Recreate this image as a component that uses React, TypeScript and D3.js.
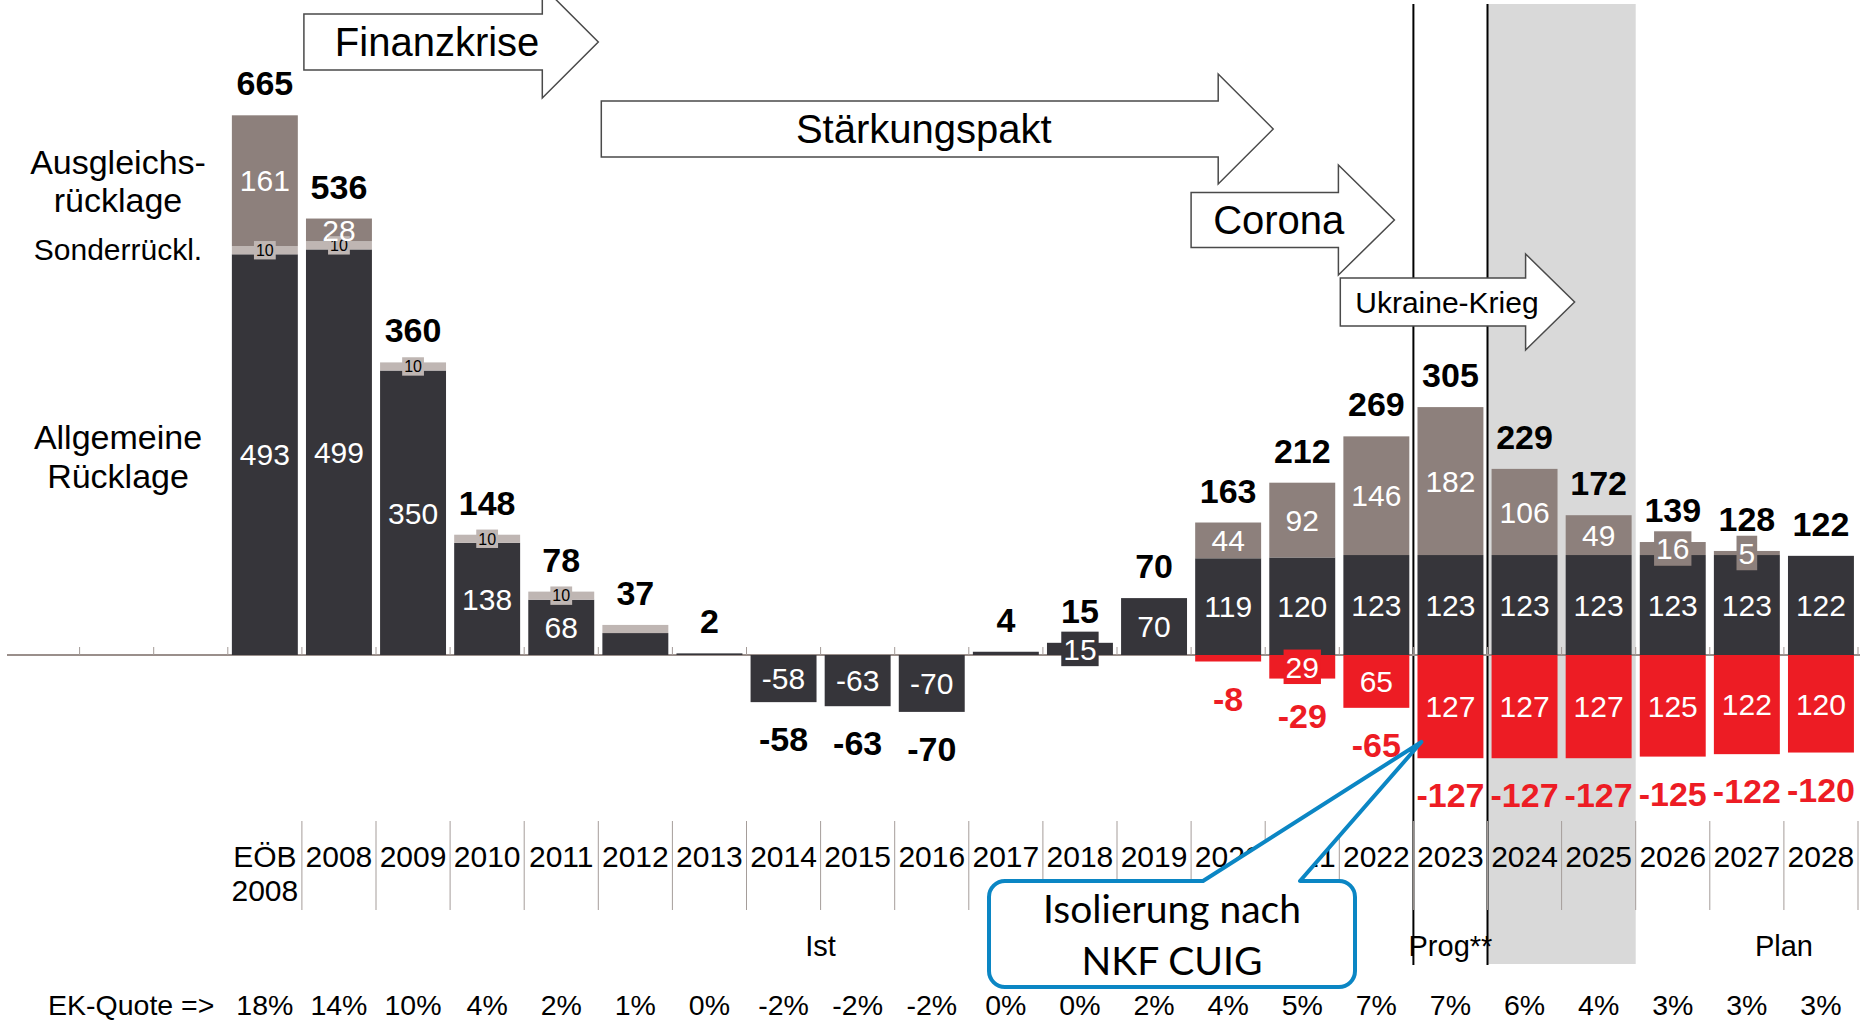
import React from 'react';
import * as d3 from 'd3';

// Rücklagenentwicklung in Mio. EUR
const categories = ['EÖB 2008', '2008', '2009', '2010', '2011', '2012', '2013', '2014', '2015', '2016', '2017',
    '2018', '2019', '2020', '2021', '2022', '2023', '2024', '2025', '2026', '2027', '2028'];
const leadPad = ['_a', '_b', '_c']; // empty slots left of the bars (row labels sit there)

const allgemeineRuecklage = [493, 499, 350, 138, 68, 27, 2, -58, -63, -70, 4, 15, 70, 119, 120, 123, 123, 123, 123, 123, 123, 122];
const sonderRuecklage = [10, 10, 10, 10, 10, 10, 0, 0, 0, 0, 0, 0, 0, 0, 0, 0, 0, 0, 0, 0, 0, 0];
const ausgleichsRuecklage = [161, 28, 0, 0, 0, 0, 0, 0, 0, 0, 0, 0, 0, 44, 92, 146, 182, 106, 49, 16, 5, 0];
const isolierung = [0, 0, 0, 0, 0, 0, 0, 0, 0, 0, 0, 0, 0, -8, -29, -65, -127, -127, -127, -125, -122, -120];
const totals = [665, 536, 360, 148, 78, 37, 2, -58, -63, -70, 4, 15, 70, 163, 212, 269, 305, 229, 172, 139, 128, 122];
const ekQuote = ['18%', '14%', '10%', '4%', '2%', '1%', '0%', '-2%', '-2%', '-2%', '0%', '0%', '2%', '4%', '5%',
    '7%', '7%', '6%', '4%', '3%', '3%', '3%'];

const phases = [
    { label: 'Ist', from: 'EÖB 2008', to: '2022' },
    { label: 'Prog**', from: '2023', to: '2023' },
    { label: 'Plan', from: '2027', to: '2028' },
];

// labels that are not printed inside the bar / that get a backing box
const noInnerLabel = ['2012|allg', '2013|allg', '2017|allg', '2012|sonder', '2020|iso'];
const boxedLabel = ['EÖB 2008|sonder', '2008|sonder', '2009|sonder', '2010|sonder', '2011|sonder',
    '2018|allg', '2021|iso', '2026|ausgl', '2027|ausgl'];

const FONT = 'Liberation Sans, Arial, Helvetica, sans-serif';
const RED = '#ed1c24';

const series = [
    { key: 'allg', values: allgemeineRuecklage, fill: '#36353a', text: '#ffffff', size: 30 },
    { key: 'sonder', values: sonderRuecklage, fill: '#bfb6b3', text: '#000000', size: 16 },
    { key: 'ausgl', values: ausgleichsRuecklage, fill: '#8d807c', text: '#ffffff', size: 30 },
    { key: 'iso', values: isolierung, fill: RED, text: '#ffffff', size: 30 },
];

const App: React.FC = () => {
    const W = 1870, H = 1021;

    const x = d3.scaleBand<string>()
        .domain([...leadPad, ...categories])
        .range([5.5, 1858])
        .paddingInner(0.11)
        .paddingOuter(0.055);
    const y = d3.scaleLinear().domain([0, 665]).range([655, 114.5]);

    const bw = x.bandwidth();
    const gap = x.step() - bw;
    const left = (c: string) => (x(c) as number) - gap / 2;
    const right = (c: string) => (x(c) as number) + bw + gap / 2;
    const cx = (c: string) => (x(c) as number) + bw / 2;
    const y0 = y(0);

    // stack segments
    const segments = categories.flatMap((c, i) => {
        let pos = 0;
        const out: any[] = [];
        series.forEach(s => {
            const v = s.values[i];
            if (!v) return;
            if (v > 0) { out.push({ c, s, v, lo: pos, hi: pos + v }); pos += v; }
            else out.push({ c, s, v, lo: v, hi: 0 });
        });
        return out;
    });
    const stackTop = categories.map((_, i) =>
        series.reduce((acc, s) => acc + Math.max(0, s.values[i]), 0));

    const arrows = [
        { label: 'Finanzkrise', x0: left('2008') + 2, tip: right('2011'), head: 56, cy: 42, hb: 28, hh: 56, size: 40 },
        { label: 'Stärkungspakt', x0: right('2011') + 3, tip: right('2020') + 8, head: 55, cy: 129, hb: 28, hh: 55, size: 40 },
        { label: 'Corona', x0: left('2020'), tip: left('2023') - 19, head: 56, cy: 220, hb: 27.5, hh: 55, size: 40 },
        { label: 'Ukraine-Krieg', x0: left('2022') + 1, tip: right('2024') + 13, head: 49, cy: 302, hb: 24, hh: 48, size: 30 },
    ];

    // callout "Isolierung nach NKF CUIG"
    const cb = { x0: 989, x1: 1355, y0: 881, y1: 987, r: 16 };
    const ptr = { a: 1203, b: 1300, tx: left('2023') + 8, ty: y(-107) };
    const calloutPath = [
        `M${cb.x0 + cb.r},${cb.y0}`,
        `L${ptr.a},${cb.y0}`, `L${ptr.tx},${ptr.ty}`, `L${ptr.b},${cb.y0}`,
        `L${cb.x1 - cb.r},${cb.y0}`, `A${cb.r},${cb.r} 0 0 1 ${cb.x1},${cb.y0 + cb.r}`,
        `L${cb.x1},${cb.y1 - cb.r}`, `A${cb.r},${cb.r} 0 0 1 ${cb.x1 - cb.r},${cb.y1}`,
        `L${cb.x0 + cb.r},${cb.y1}`, `A${cb.r},${cb.r} 0 0 1 ${cb.x0},${cb.y1 - cb.r}`,
        `L${cb.x0},${cb.y0 + cb.r}`, `A${cb.r},${cb.r} 0 0 1 ${cb.x0 + cb.r},${cb.y0}`, 'Z',
    ].join(' ');

    const boundaries = d3.range(4, 26).map(k => 5.5 + k * x.step());

    return (
        <svg width={W} height={H} style={{ position: 'absolute', left: 0, top: 0, display: 'block', background: '#fff' }}
             fontFamily={FONT}>
            {/* Plan period shading and Prognose markers */}
            <rect x={left('2024')} y={4} width={right('2025') - left('2024')} height={960} fill="#d9d9d9" />
            {['2023', '2024'].map(c => (
                <line key={c} x1={left(c)} x2={left(c)} y1={4} y2={965} stroke="#000" strokeWidth={2} />
            ))}

            {/* zero line + ticks */}
            <line x1={7} x2={1860} y1={y0} y2={y0} stroke="#9a8f8b" strokeWidth={2} />
            {d3.range(1, 26).map(k => {
                const xx = 5.5 + k * x.step();
                return <line key={k} x1={xx} x2={xx} y1={y0 - 8} y2={y0} stroke="#a39a97" strokeWidth={1} />;
            })}

            {/* bars */}
            {segments.map((d, i) => (
                <rect key={i} x={x(d.c)} width={bw} y={y(d.hi)} height={y(d.lo) - y(d.hi)} fill={d.s.fill} />
            ))}

            {/* inner labels */}
            {segments.map((d, i) => {
                const id = `${d.c}|${d.s.key}`;
                if (noInnerLabel.includes(id)) return null;
                const txt = d.s.key === 'iso' ? String(-d.v) : String(d.v);
                const mid = (y(d.hi) + y(d.lo)) / 2;
                const fs = d.s.size;
                const boxW = txt.length * 0.556 * fs + 4;
                const boxH = fs * 1.15;
                return (
                    <g key={i}>
                        {boxedLabel.includes(id) &&
                            <rect x={cx(d.c) - boxW / 2} y={mid - boxH / 2} width={boxW} height={boxH} fill={d.s.fill} />}
                        <text x={cx(d.c)} y={mid + 0.358 * fs} textAnchor="middle" fontSize={fs} fill={d.s.text}>{txt}</text>
                    </g>
                );
            })}

            {/* totals */}
            {categories.map((c, i) => (
                <g key={c}>
                    {totals[i] >= 0 &&
                        <text x={cx(c)} y={y(stackTop[i]) - 20} textAnchor="middle" fontSize={34} fontWeight="bold">{totals[i]}</text>}
                    {totals[i] < 0 &&
                        <text x={cx(c)} y={y(totals[i]) + 49} textAnchor="middle" fontSize={34} fontWeight="bold">{totals[i]}</text>}
                    {isolierung[i] < 0 &&
                        <text x={cx(c)} y={y(isolierung[i]) + 49} textAnchor="middle" fontSize={34} fontWeight="bold" fill={RED}>{isolierung[i]}</text>}
                </g>
            ))}

            {/* row labels on the left */}
            <g textAnchor="middle" fontSize={34}>
                <text x={118} y={174}>Ausgleichs-</text>
                <text x={118} y={212}>rücklage</text>
                <text x={118} y={260} fontSize={30}>Sonderrückl.</text>
                <text x={118} y={449}>Allgemeine</text>
                <text x={118} y={488}>Rücklage</text>
            </g>

            {/* period arrows */}
            {arrows.map(a => {
                const base = a.tip - a.head;
                const pts = [[a.x0, a.cy - a.hb], [base, a.cy - a.hb], [base, a.cy - a.hh], [a.tip, a.cy],
                    [base, a.cy + a.hh], [base, a.cy + a.hb], [a.x0, a.cy + a.hb]];
                return (
                    <g key={a.label}>
                        <polygon points={pts.map(p => p.join(',')).join(' ')} fill="#fff" stroke="#4a4a4a" strokeWidth={1.5} />
                        <text x={(a.x0 + base) / 2 + 14} y={a.cy + 0.358 * a.size} textAnchor="middle" fontSize={a.size}>{a.label}</text>
                    </g>
                );
            })}

            {/* category axis */}
            {boundaries.map((b, k) => (
                <line key={k} x1={b} x2={b} y1={821} y2={910} stroke="#a59d9a" strokeWidth={1} />
            ))}
            {categories.map(c => {
                const parts = c.split(' ');
                return (
                    <text key={c} x={cx(c)} textAnchor="middle" fontSize={30}>
                        {parts.map((p, j) => <tspan key={j} x={cx(c)} y={867 + j * 34}>{p}</tspan>)}
                    </text>
                );
            })}
            {phases.map(p => (
                <text key={p.label} x={(cx(p.from) + cx(p.to)) / 2} y={956} textAnchor="middle" fontSize={29}>{p.label}</text>
            ))}

            {/* EK-Quote row */}
            <text x={48} y={1015} fontSize={28.5}>{'EK-Quote =>'}</text>
            {categories.map((c, i) => (
                <text key={c} x={cx(c)} y={1015} textAnchor="middle" fontSize={28.5}>{ekQuote[i]}</text>
            ))}

            {/* callout */}
            <path d={calloutPath} fill="#fff" stroke="#0b86c4" strokeWidth={4} strokeLinejoin="round" />
            <g fontFamily="Lato, 'Open Sans', sans-serif" fontSize={39} textAnchor="middle">
                <text x={(cb.x0 + cb.x1) / 2} y={923}>Isolierung nach</text>
                <text x={(cb.x0 + cb.x1) / 2} y={975}>NKF CUIG</text>
            </g>
        </svg>
    );
};

export default App;
